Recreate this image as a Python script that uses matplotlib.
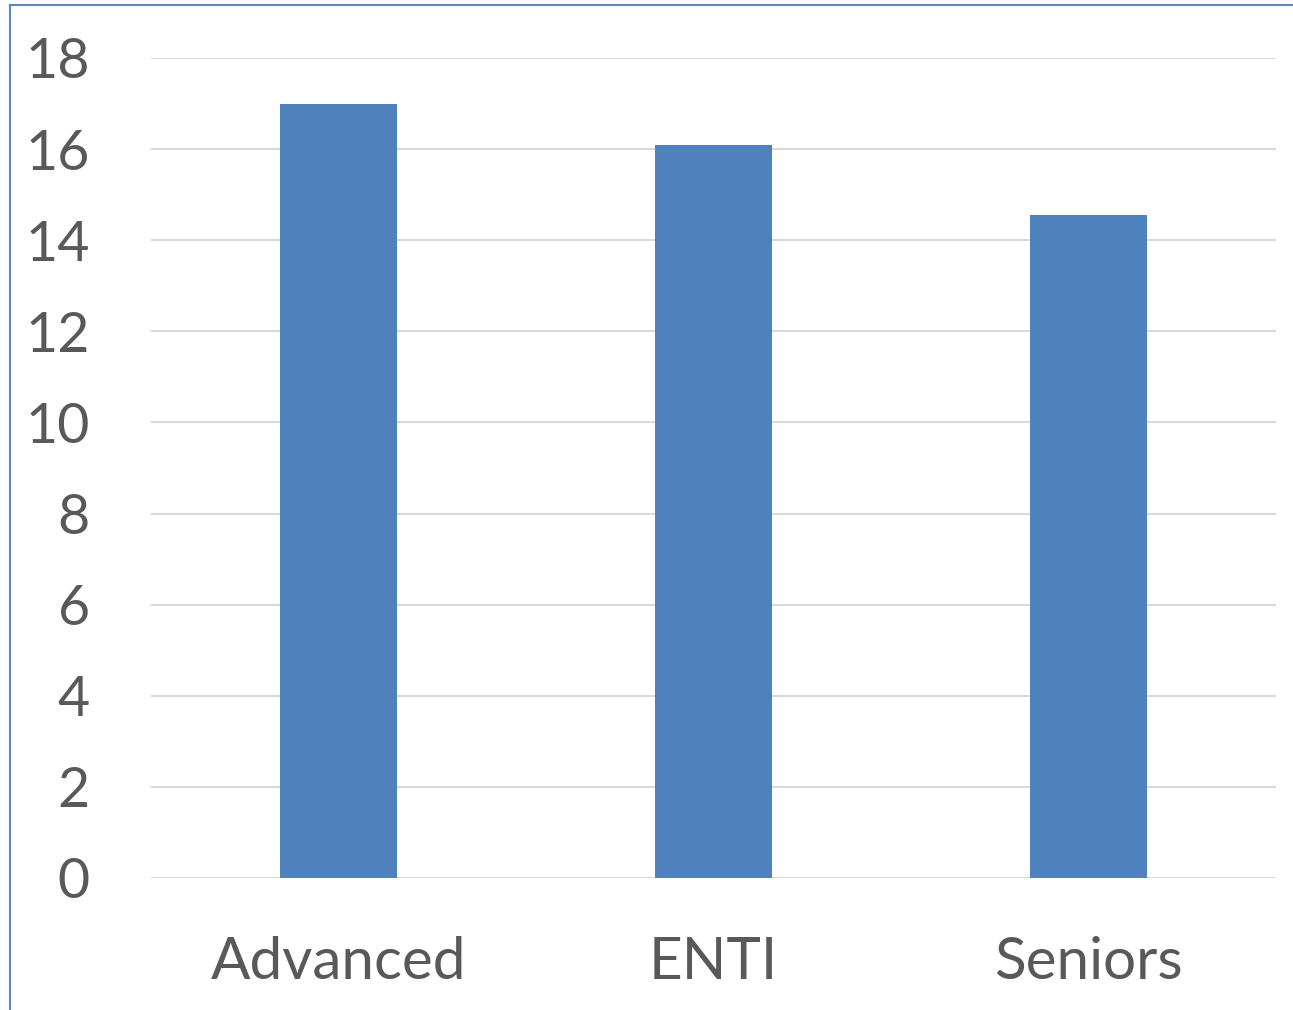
import matplotlib
matplotlib.use("Agg")
import matplotlib.pyplot as plt

# data
categories = ["Advanced", "ENTI", "Seniors"]
values = [17.0, 16.1, 14.55]
y_ticks = [0, 2, 4, 6, 8, 10, 12, 14, 16, 18]

W, H, DPI = 1293, 1010, 100
plt.rcParams["font.family"] = ["Lato", "DejaVu Sans"]

fig = plt.figure(figsize=(W / DPI, H / DPI), dpi=DPI)
ax = fig.add_axes([151 / W, 1 - 878 / H, (1276 - 151) / W, (878 - 58) / H])

ax.bar(range(len(categories)), values, width=0.31, color="#4f81bd", zorder=3)
ax.set_xlim(-0.5, len(categories) - 0.5)
ax.set_ylim(0, 18)
ax.set_yticks(y_ticks)
ax.set_xticks(range(len(categories)))
ax.set_xticklabels(categories)

ax.grid(axis="y", color="#d9d9d9", lw=1.5, zorder=0)
for s in ax.spines.values():
    s.set_visible(False)
ax.tick_params(axis="both", length=0, colors="#595959")
ax.tick_params(axis="y", pad=44, labelsize=40)
ax.tick_params(axis="x", pad=42, labelsize=42)

# outer chart border (left + top only visible)
fig.add_artist(plt.Line2D([10 / W, 10 / W], [0, 1 - 5 / H], color="#5b87c5", lw=1.5,
                          transform=fig.transFigure))
fig.add_artist(plt.Line2D([10 / W, 1], [1 - 5 / H, 1 - 5 / H], color="#5b87c5", lw=1.5,
                          transform=fig.transFigure))

fig.savefig("out.png", dpi=DPI)
